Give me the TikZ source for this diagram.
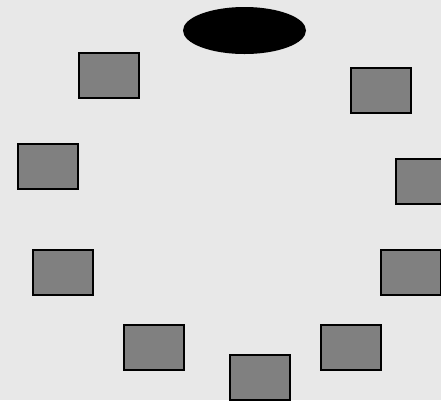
\documentclass[tikz,border=0pt]{standalone}
\usetikzlibrary{shapes.geometric}
\begin{document}
\begin{tikzpicture}[x=1pt,y=-1pt,
  box/.style={draw=black,fill=black!50,line width=2pt,minimum width=60pt,minimum height=45pt,inner sep=0pt,outer sep=0pt},
  blob/.style={ellipse,fill=black,minimum width=123pt,minimum height=47pt,inner sep=0pt}]
\fill[black!9] (0,0) rectangle (441,400);
\useasboundingbox (0,0) rectangle (441,400);
\node[blob] (e) at (244.5,30.5) {};
\node[box] (r1) at (109,75.5) {};
\node[box] (r2) at (381,90.5) {};
\node[box] (r3) at (48,166) {};
\node[box] (r4) at (426,181) {};
\node[box] (r5) at (62.5,272.5) {};
\node[box] (r6) at (411,272.5) {};
\node[box] (r7) at (153.5,347.5) {};
\node[box] (r8) at (350.5,347.5) {};
\node[box] (r9) at (259.5,377.5) {};
\end{tikzpicture}
\end{document}
